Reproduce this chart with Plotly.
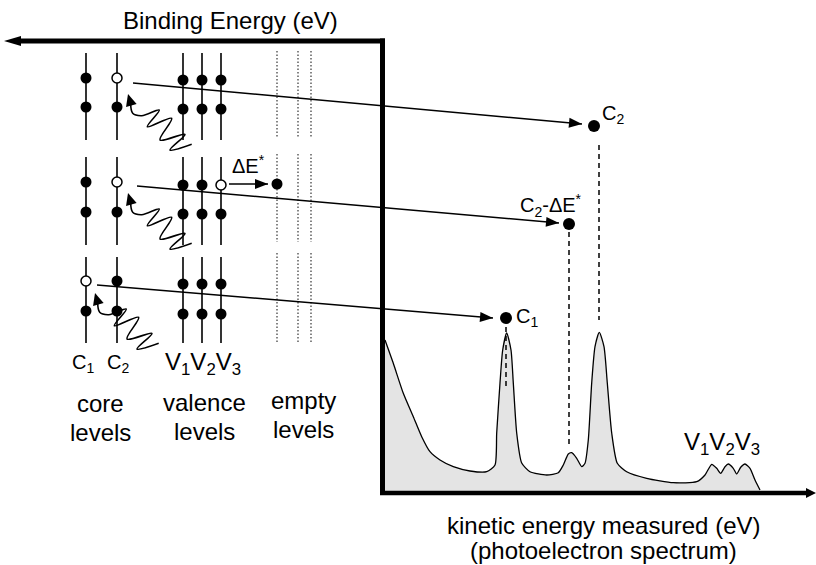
import math
import plotly.graph_objects as go

FONT = "Liberation Sans, Arial, Helvetica, sans-serif"

# ---------------- data (pixel-like units) ----------------
core_x = [86, 117]                 # C1, C2 columns
val_x = [183, 202, 221]            # V1, V2, V3 columns
empty_x = [277, 298, 311]          # empty levels (dotted)
grp_top = [53, 157, 257]
grp_bot = [140, 245, 343]
core_dot_y = [(78, 107), (182, 212), (281, 311)]
val_dot_y = [(80, 109), (185, 214), (284, 314)]
empty_top = [51, 154, 253]
empty_bot = [137, 242, 342]
# holes: (group, column kind, column index)
holes = [(0, "c", 1), (1, "c", 1), (1, "v", 2), (2, "c", 0)]

# photo-emission arrows
emit_start = [(133, 83), (137, 186), (97, 285)]
emit_tip = [(582, 124), (559, 223), (493, 318)]
peak_dot_x = [594, 569, 506]
peak_dot_y = [126, 224, 318]
dash_x = [599, 569, 506]
dash_y0 = [145, 232, 327]
dash_y1 = [320, 447, 390]

# shake-up arrow
shake_from = (229, 184)
shake_to = (268, 184)
shake_dot = (277, 184)

# photon squiggle (offsets from arrow tip) and tips
photon_dx = [2.7, 4.7, 13.7, 31.3, 19.3, 43.7, 32, 57, 42, 63.7]
photon_dy = [9.3, 19.3, 21.7, 16, 32.7, 24.3, 46, 40.3, 56, 50.3]
photon_tip = [(128, 94), (128, 193), (95, 293)]

# photoelectron spectrum
spec_x = [385, 393.3, 403.3, 413.3, 421.7, 430, 440, 453.3, 470, 486.7, 495, 496.7, 500,
          502.7, 506.7, 511, 513.3, 516.7, 521.7, 530, 546.7, 558.3, 563.3, 568.3, 571.7,
          576.7, 581.7, 585, 588.3, 591.7, 595, 599.3, 604, 607.3, 611.7, 617.3, 626.7,
          646.7, 673.3, 696.7, 705, 711.7, 716.7, 720.7, 725, 728.3, 733.3, 736.7, 740.7,
          745, 750, 755, 760]
spec_y = [340, 363.3, 393.3, 416.7, 436.7, 451.7, 460, 466.7, 471, 471.7, 465, 433, 383,
          350, 333, 350, 383, 433, 463, 471.7, 475, 472.7, 465, 454, 452.7,
          458.3, 466.7, 463.3, 440, 383, 346.7, 332.3, 346.7, 383, 433, 463.3, 471.7,
          478.3, 482.7, 481.7, 475, 464.3, 468.3, 473.3, 466.7, 464, 468.3, 474, 467.3,
          464, 468.3, 480, 490]
baseline_y = 491

# axes
axis_top_y = 41
axis_left_x = 382.5
axis_bot_y = 493
axis_arrow_left = 4
axis_arrow_right = 816

fig = go.Figure()

# spectrum fill
fx = spec_x + [spec_x[-1], spec_x[0]]
fy = spec_y + [baseline_y, baseline_y]
fig.add_trace(go.Scatter(x=fx, y=fy, fill="toself", fillcolor="#e4e4e4",
                         line=dict(width=0), mode="lines", hoverinfo="skip"))
fig.add_trace(go.Scatter(x=spec_x, y=spec_y, mode="lines",
                         line=dict(color="black", width=1.3, shape="spline", smoothing=0.6),
                         hoverinfo="skip"))

# level vertical lines
lx, ly = [], []
for g in range(3):
    for x in core_x + val_x:
        lx += [x, x, None]
        ly += [grp_top[g], grp_bot[g], None]
fig.add_trace(go.Scatter(x=lx, y=ly, mode="lines", line=dict(color="black", width=1.6),
                         hoverinfo="skip"))
# empty levels
ex, ey = [], []
for g in range(3):
    for x in empty_x:
        ex += [x, x, None]
        ey += [empty_top[g], empty_bot[g], None]
fig.add_trace(go.Scatter(x=ex, y=ey, mode="lines",
                         line=dict(color="#222", width=1.1, dash="1.5px,2px"), hoverinfo="skip"))

# dashed lines
dx_, dy_ = [], []
for x, y0, y1 in zip(dash_x, dash_y0, dash_y1):
    dx_ += [x, x, None]
    dy_ += [y0, y1, None]
fig.add_trace(go.Scatter(x=dx_, y=dy_, mode="lines",
                         line=dict(color="black", width=1.5, dash="5px,4px"), hoverinfo="skip"))

# emission lines
mx, my = [], []
for s, t in zip(emit_start, emit_tip):
    mx += [s[0], t[0], None]
    my += [s[1], t[1], None]
mx += [shake_from[0], shake_to[0], None]
my += [shake_from[1], shake_to[1], None]
fig.add_trace(go.Scatter(x=mx, y=my, mode="lines", line=dict(color="black", width=1.5),
                         hoverinfo="skip"))

# photon squiggles
for tip in photon_tip:
    fig.add_trace(go.Scatter(x=[tip[0] + d for d in photon_dx],
                             y=[tip[1] + d for d in photon_dy], mode="lines",
                             line=dict(color="black", width=1.6, shape="spline", smoothing=1.0),
                             hoverinfo="skip"))

# dots
fxs, fys, oxs, oys = [], [], [], []
for g in range(3):
    for kind, cols, ys in (("c", core_x, core_dot_y[g]), ("v", val_x, val_dot_y[g])):
        for i, x in enumerate(cols):
            for j, y in enumerate(ys):
                if j == 0 and (g, kind, i) in holes:
                    oxs.append(x); oys.append(y)
                else:
                    fxs.append(x); fys.append(y)
fxs.append(shake_dot[0]); fys.append(shake_dot[1])
fig.add_trace(go.Scatter(x=fxs, y=fys, mode="markers",
                         marker=dict(color="black", size=11, line=dict(width=0)), hoverinfo="skip"))
fig.add_trace(go.Scatter(x=oxs, y=oys, mode="markers",
                         marker=dict(color="white", size=10, line=dict(color="black", width=1.5)),
                         hoverinfo="skip"))
fig.add_trace(go.Scatter(x=peak_dot_x, y=peak_dot_y, mode="markers",
                         marker=dict(color="black", size=12, line=dict(width=0)), hoverinfo="skip"))


def head(tip, frm, L, W):
    dx, dy = tip[0] - frm[0], tip[1] - frm[1]
    n = math.hypot(dx, dy)
    ux, uy = dx / n, dy / n
    bx, by = tip[0] - ux * L, tip[1] - uy * L
    px, py = -uy, ux
    return (f"M {tip[0]},{tip[1]} L {bx + px * W / 2},{by + py * W / 2} "
            f"L {bx - px * W / 2},{by - py * W / 2} Z")


shapes = []
black = dict(color="black", width=0)
for s, t in zip(emit_start, emit_tip):
    shapes.append(dict(type="path", path=head(t, s, 13, 10), fillcolor="black", line=black))
shapes.append(dict(type="path", path=head(shake_to, shake_from, 13, 10), fillcolor="black", line=black))
for tip in photon_tip:
    frm = (tip[0] + photon_dx[0], tip[1] + photon_dy[0])
    shapes.append(dict(type="path", path=head(tip, frm, 12, 11), fillcolor="black", line=black))

# thick axes
shapes.append(dict(type="line", x0=18, x1=385, y0=axis_top_y, y1=axis_top_y,
                   line=dict(color="black", width=5)))
shapes.append(dict(type="line", x0=axis_left_x, x1=axis_left_x, y0=38.5, y1=495,
                   line=dict(color="black", width=5)))
shapes.append(dict(type="line", x0=380, x1=808, y0=axis_bot_y, y1=axis_bot_y,
                   line=dict(color="black", width=4.5)))
shapes.append(dict(type="path",
                   path=f"M {axis_arrow_left},{axis_top_y} L 21,{axis_top_y - 5} L 21,{axis_top_y + 5} Z",
                   fillcolor="black", line=black))
shapes.append(dict(type="path",
                   path=f"M {axis_arrow_right},{axis_bot_y} L 806,{axis_bot_y - 5} L 806,{axis_bot_y + 5} Z",
                   fillcolor="black", line=black))

annots = []


def txt(x, y, s, size, xanchor="center", yanchor="middle"):
    annots.append(dict(x=x, y=y, text=s, showarrow=False, xref="x", yref="y",
                       xanchor=xanchor, yanchor=yanchor,
                       font=dict(family=FONT, size=size, color="black")))


txt(230, 20, "Binding Energy (eV)", 24)
txt(603, 525, "kinetic energy measured (eV)", 24)
txt(603, 550, "(photoelectron spectrum)", 24)
txt(83, 363, "C<sub>1</sub>", 20)
txt(118, 363, "C<sub>2</sub>", 20)
txt(203, 363, "V<sub>1</sub>V<sub>2</sub>V<sub>3</sub>", 24)
txt(100, 403, "core", 24)
txt(100, 432, "levels", 24)
txt(204, 402, "valence", 24)
txt(204, 431, "levels", 24)
txt(303, 400, "empty", 24)
txt(303, 429, "levels", 24)
txt(722, 443, "V<sub>1</sub>V<sub>2</sub>V<sub>3</sub>", 24)
txt(600, 114, "C<sub>2</sub>", 20, xanchor="left")
txt(514, 317, "C<sub>1</sub>", 20, xanchor="left")
txt(551, 205, "C<sub>2</sub>-ΔE<sup>*</sup>", 20)
txt(248, 164, "ΔE<sup>*</sup>", 20)

fig.update_layout(
    width=816, height=565, margin=dict(l=0, r=0, t=0, b=0),
    paper_bgcolor="white", plot_bgcolor="white", showlegend=False,
    xaxis=dict(range=[0, 816], visible=False, fixedrange=True),
    yaxis=dict(range=[565, 0], visible=False, fixedrange=True),
    shapes=shapes, annotations=annots,
)
fig.write_html("out.html")
